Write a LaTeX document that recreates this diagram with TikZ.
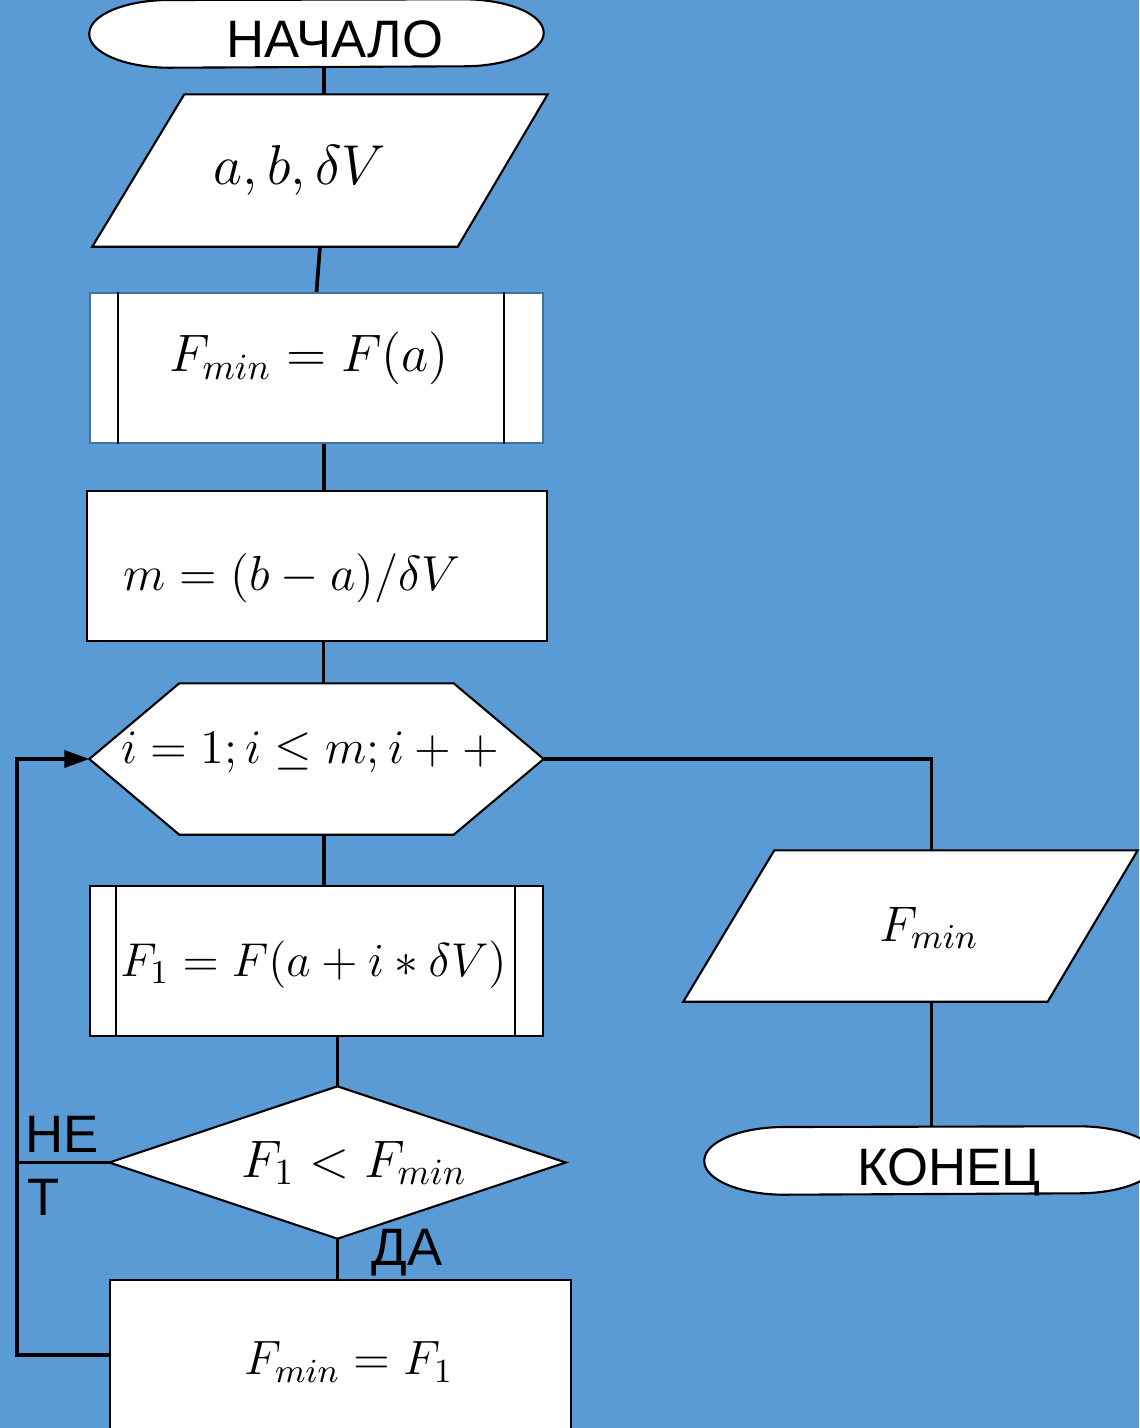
\RequirePackage{fix-cm}
\documentclass[tikz,border=0pt]{standalone}
\usepackage{fontspec}
\setmainfont{Liberation Sans}
\usetikzlibrary{arrows.meta,calc}
\definecolor{bgblue}{RGB}{91,155,213}
\definecolor{frameblue}{RGB}{65,113,156}

\begin{document}
\begin{tikzpicture}[
    font=\fontsize{15}{18}\selectfont,
    blank/.style={minimum width=4.53cm, minimum height=1.5cm, inner sep=0pt},
    box/.style={blank, draw, fill=white, line width=0.6pt},
    outline/.style={draw, fill=white, line width=0.6pt},
    formula/.style={font=\fontsize{#1}{18}\selectfont},
    formula/.default=15,
    link/.style={line width=1.05pt},
    ]
    %background
    \useasboundingbox (0,0) rectangle (11.39,-14.28);
    \fill[bgblue] (0,0) rectangle (11.39,-14.28);

    %shapes
    \node[blank, minimum height=0.67cm] (start) at (3.165,-0.335) {};
    \draw[outline] (start.west) arc[start angle=180, end angle=90, x radius=0.8cm, y radius=0.335cm]
        -- ($(start.north east)+(-0.8,0)$)
        arc[start angle=90, end angle=-90, x radius=0.8cm, y radius=0.335cm]
        -- ($(start.south west)+(0.8,0)$)
        arc[start angle=270, end angle=180, x radius=0.8cm, y radius=0.335cm] -- cycle;
    \node[blank, minimum width=4.54cm, minimum height=1.51cm] (in) at (3.20,-1.705) {};
    \draw[outline] (in.south west) -- ($(in.north west)+(0.92,0)$) -- (in.north east)
        -- ($(in.south east)+(-0.90,0)$) -- cycle;
    \node[box, draw=frameblue] (init) at (3.165,-3.68) {};
    \draw[line width=0.6pt] ($(init.north west)+(0.29,0)$) -- ($(init.south west)+(0.29,0)$);
    \draw[line width=0.6pt] ($(init.north east)+(-0.40,0)$) -- ($(init.south east)+(-0.40,0)$);
    \node[box, minimum width=4.60cm] (calc) at (3.17,-5.66) {};
    \node[blank] (loop) at (3.165,-7.59) {};
    \draw[outline] (loop.west) -- ($(loop.north west)+(0.9,0)$) -- ($(loop.north east)+(-0.9,0)$)
        -- (loop.east) -- ($(loop.south east)+(-0.9,0)$) -- ($(loop.south west)+(0.9,0)$) -- cycle;
    \node[box] (eval) at (3.165,-9.61) {};
    \draw[line width=0.6pt] ($(eval.north west)+(0.27,0)$) -- ($(eval.south west)+(0.27,0)$);
    \draw[line width=0.6pt] ($(eval.north east)+(-0.29,0)$) -- ($(eval.south east)+(-0.29,0)$);
    \node[blank, minimum width=4.55cm, minimum height=1.51cm] (test) at (3.375,-11.625) {};
    \draw[outline] (test.west) -- (test.north) -- (test.east) -- (test.south) -- cycle;
    \node[box, minimum width=4.61cm] (upd) at (3.405,-13.55) {};
    \node[blank] (out) at (9.105,-9.26) {};
    \draw[outline] (out.south west) -- ($(out.north west)+(0.91,0)$) -- (out.north east)
        -- ($(out.south east)+(-0.90,0)$) -- cycle;
    \node[blank, minimum height=0.67cm] (stop) at (9.315,-11.605) {};
    \draw[outline] (stop.west) arc[start angle=180, end angle=90, x radius=0.8cm, y radius=0.335cm]
        -- ($(stop.north east)+(-0.8,0)$)
        arc[start angle=90, end angle=-90, x radius=0.8cm, y radius=0.335cm]
        -- ($(stop.south west)+(0.8,0)$)
        arc[start angle=270, end angle=180, x radius=0.8cm, y radius=0.335cm] -- cycle;

    %texts
    \node[anchor=base] (starttext) at (3.35,-0.57) {НАЧАЛО};
    \node[formula=16] (intext) at (3.0,-1.70) {$a, b, \delta V$};
    \node[formula] (inittext) at (3.09,-3.58) {$F_{min}=F(a)$};
    \node[formula=14] (calctext) at (2.92,-5.78) {$m=(b-a)/\delta V$};
    \node[formula=13.7] (looptext) at (3.10,-7.52) {$i=1;i\le m;i++$};
    \node[formula=13.5] (evaltext) at (3.135,-9.65) {$F_1=F(a+i*\delta V)$};
    \node[formula] (testtext) at (3.54,-11.63) {$F_1<F_{min}$};
    \node[formula=13.7] (updtext) at (3.49,-13.62) {$F_{min}=F_1$};
    \node[formula=14.2] (outtext) at (9.29,-9.28) {$F_{min}$};
    \node[anchor=base] (stoptext) at (9.49,-11.85) {КОНЕЦ};

    %connectors
    \coordinate (back) at (0.17,-7.59);
    \draw[link] ([xshift=0.04cm]in.north) -- ([xshift=0.04cm]in.north |- start.south);
    \draw[link] (in.south) -- (init.north);
    \draw[link] ([xshift=0.075cm]init.south) -- ([xshift=0.075cm]init.south |- calc.north);
    \draw[link] ([xshift=0.065cm]calc.south) -- ([xshift=0.065cm]calc.south |- loop.north);
    \draw[link] ([xshift=0.075cm]loop.south) -- ([xshift=0.075cm]loop.south |- eval.north);
    \draw[link] (test.north |- eval.south) -- (test.north);
    \draw[link] (test.south) -- (test.south |- upd.north);
    \draw[link] (loop.east) -| (out.north -| stop.north);
    \draw[link] (stop.north |- out.south) -- (stop.north);
    \draw[link] (test.west) -- (test.west -| back);
    \draw[link, -{Triangle[length=0.25cm, width=0.17cm]}] (upd.west) -| (back) -- (loop.west);

    %labels
    \node[anchor=base] (yes) at (4.07,-12.65) {ДА};
    \node[anchor=base west, inner sep=0pt] (no1) at (0.25,-11.52) {НЕ};
    \node[anchor=base west, inner sep=0pt] (no2) at (0.27,-12.15) {Т};
\end{tikzpicture}
\end{document}
